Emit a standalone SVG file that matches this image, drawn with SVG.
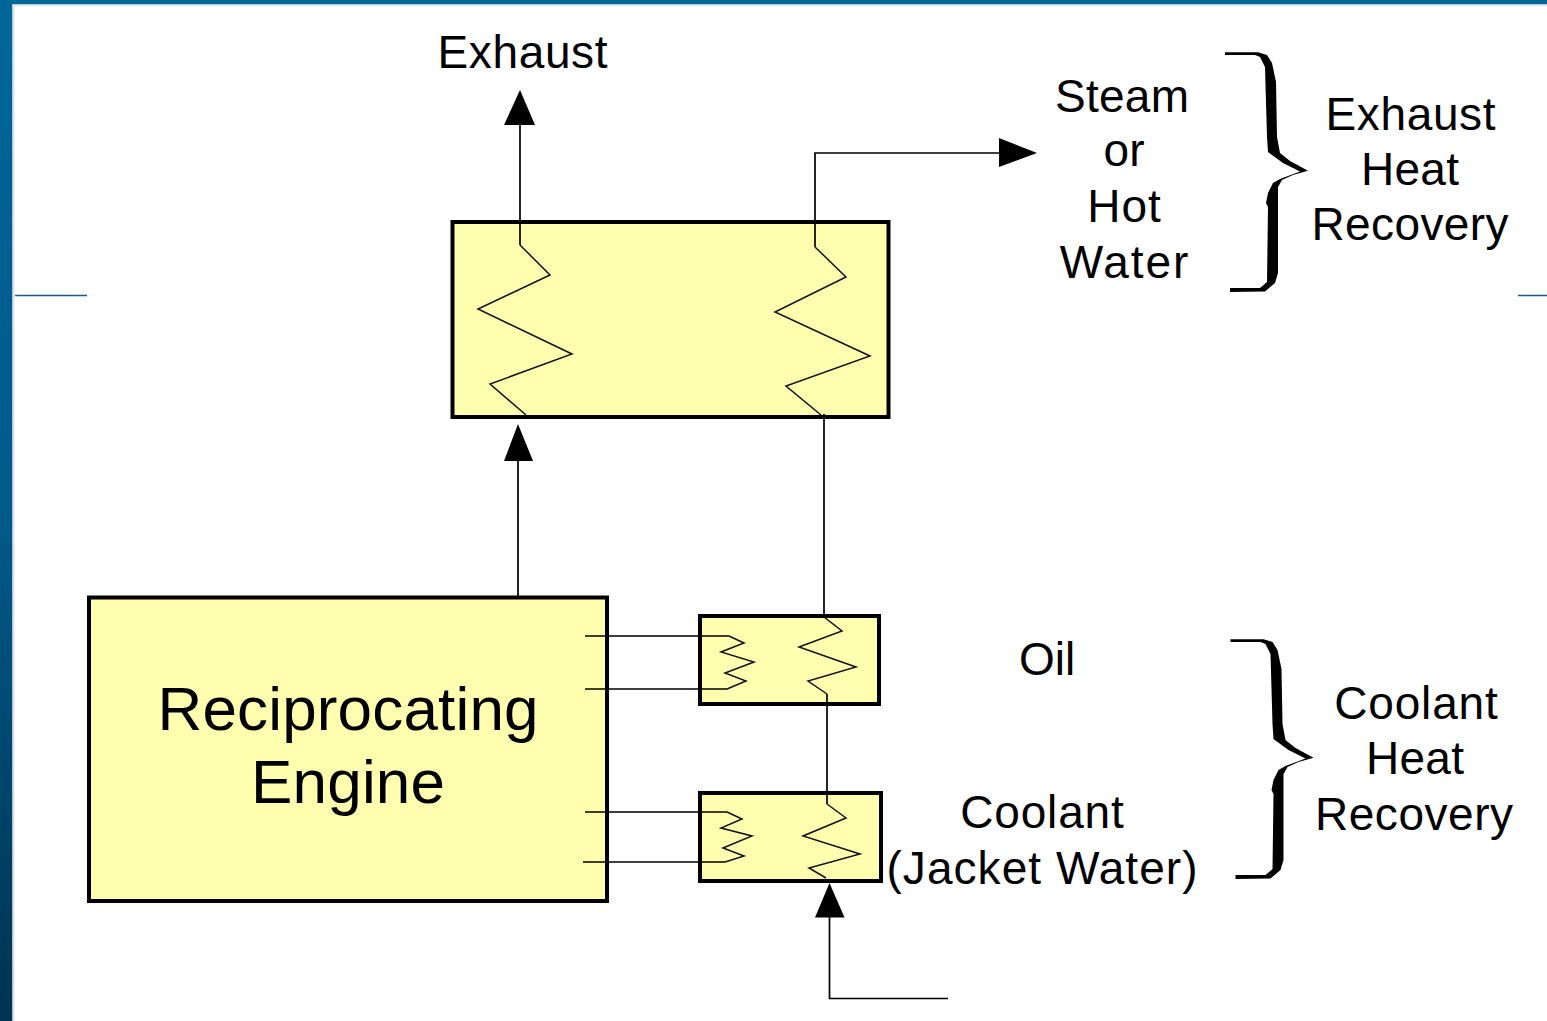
<svg xmlns="http://www.w3.org/2000/svg" width="1547" height="1021" viewBox="0 0 1547 1021">
<style>
text{font-family:"Liberation Sans",Arial,sans-serif;font-size:46px;fill:#000;text-anchor:middle}
.big{font-size:62px}
.box{fill:#ffffaf;stroke:#000;stroke-width:4}
.ln{fill:none;stroke:#000;stroke-width:1.7}
.coil{fill:none;stroke:#111;stroke-width:1.5}
.rule{stroke:#1a5a85;stroke-width:1.5}
.hd{fill:#000}
</style>
<defs>
<linearGradient id="band" x1="0" y1="0" x2="0" y2="1"><stop offset="0" stop-color="#006699"/><stop offset="0.5" stop-color="#005a8a"/><stop offset="1" stop-color="#003350"/></linearGradient>
<path id="brace" d="M1225 52.300H1258L1267 55L1272 63L1276 82L1277 137L1280 153L1290 161L1308 170.700L1293 175L1282 180L1278 187L1278 273L1275 283L1265 291.500L1230 292V288L1260 288L1267 282L1268 207L1266 203L1268 193L1273 183L1280 179L1300 171.500L1283 163L1272 155L1268 152L1267 137L1265 67L1260 57L1255 55H1225Z"/>
</defs>
<rect width="1547" height="1021" fill="#fff"/>
<g id="frame">
<rect width="12.500" height="1021" fill="url(#band)"/>
<rect width="1547" height="4.500" fill="#006699"/>
<rect x="12.500" y="4.500" width="2" height="1016.500" fill="#dfe3e6"/>
<rect x="12.500" y="4.500" width="1534.500" height="2" fill="#e6e9eb"/>
<path class="rule" d="M15 295.500H87M1518 295.500H1547"/>
</g>
<g id="engine"><rect class="box" x="89" y="597.500" width="518" height="303.500"/><text class="big" x="348" y="730" textLength="381">Reciprocating</text><text class="big" x="348" y="803" textLength="194">Engine</text></g>
<g id="exhaust-hx"><rect class="box" x="452.500" y="222" width="436" height="195"/></g>
<g id="oil-hx"><rect class="box" x="700" y="616" width="179" height="88"/></g>
<g id="coolant-hx"><rect class="box" x="700" y="793" width="181" height="88"/></g>
<g id="connectors">
<path class="ln" d="M520 222V125M815 222V153H1000M518 597V460M824 417V616M827 694V804M829.500 917V998.500H948M585 636H729M585 689H727M585 812H727M583 862H725"/>
<path class="ln" d="M520 222V245M815 222V247M824 417V414"/>
<path class="coil" d="M520 245L550 275L478 309L572 354L490 384L526 415"/>
<path class="coil" d="M815 247L846 277L775 312L870 356L786 386L821 415"/>
<path class="coil" d="M824 617L842 631L799 647L856 667L808 681L827 694"/>
<path class="coil" d="M827 804L846 818L803 836L860 854L809 868L826 878"/>
<path class="coil" d="M729 636L744 643L721 652L754 662L725 673L746 681L727 689"/>
<path class="coil" d="M727 812L742 819L721 828L752 836L723 848L744 856L725 862"/>
<path class="hd" d="M520 90L535 125H504Z"/>
<path class="hd" d="M518 424L533 461H504Z"/>
<path class="hd" d="M1037 153L999 138V167Z"/>
<path class="hd" d="M829.500 883L844.500 917.500H815Z"/>
</g>
<g id="exhaust-label"><text x="522.500" y="68" textLength="170">Exhaust</text></g>
<g id="steam-label"><text x="1122" y="112" textLength="134">Steam</text><text x="1124" y="166" textLength="41">or</text><text x="1124" y="222" textLength="73.500">Hot</text><text x="1124" y="278" textLength="128.500">Water</text></g>
<g id="exhaust-brace"><use href="#brace"/><text x="1410.500" y="130" textLength="170">Exhaust</text><text x="1410" y="185" textLength="98">Heat</text><text x="1410" y="240" textLength="197">Recovery</text></g>
<g id="oil-label"><text x="1047" y="675">Oil</text></g>
<g id="coolant-label"><text x="1042" y="828" textLength="163.500">Coolant</text><text x="1042" y="884" textLength="311">(Jacket Water)</text></g>
<g id="coolant-brace"><use href="#brace" transform="translate(5.500 587)"/><text x="1416" y="719" textLength="163.500">Coolant</text><text x="1415" y="774" textLength="98">Heat</text><text x="1414" y="830" textLength="198">Recovery</text></g>
</svg>
